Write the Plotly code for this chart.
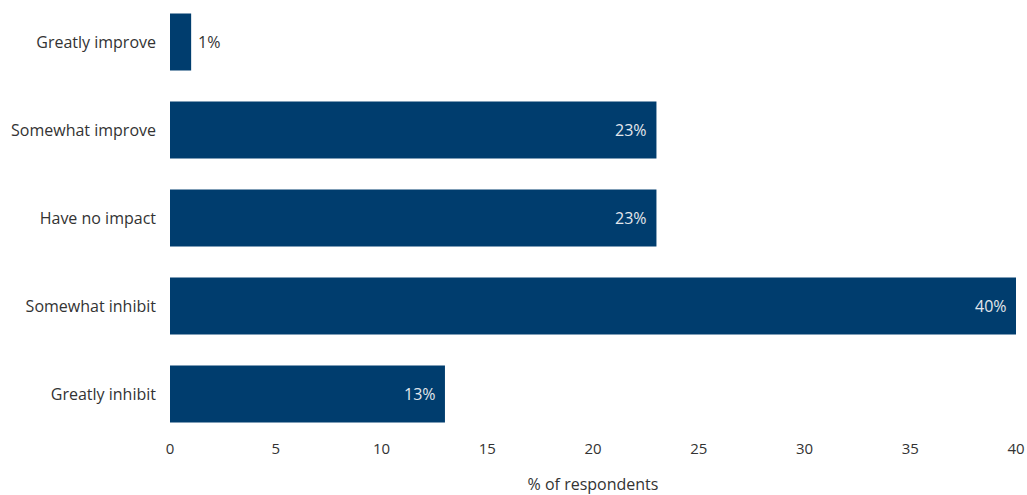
import plotly.graph_objects as go

categories = ["Greatly improve", "Somewhat improve", "Have no impact", "Somewhat inhibit", "Greatly inhibit"]
values = [1, 23, 23, 40, 13]
labels = ["1%", "23%", "23%", "40%", "13%"]
inside = [False, True, True, True, True]

fig = go.Figure(go.Bar(
    x=values, y=categories, orientation="h",
    marker=dict(color="#003d6e", line=dict(width=0)),
    hoverinfo="x+y",
))

for c, v, t, ins in zip(categories, values, labels, inside):
    fig.add_annotation(
        x=v, y=c, text=t, showarrow=False,
        xanchor="right" if ins else "left",
        xshift=-7 if ins else 5,
        font=dict(family="Open Sans", size=16,
                  color="#e3e7ec" if ins else "#333333"),
    )

fig.update_layout(
    width=1027, height=495,
    margin=dict(l=170, r=11, t=0, b=57),
    paper_bgcolor="white", plot_bgcolor="white",
    bargap=0.35,
    font=dict(family="Open Sans", size=16, color="#333333"),
    showlegend=False,
    xaxis=dict(range=[0, 40], tickvals=[0, 5, 10, 15, 20, 25, 30, 35, 40],
               showgrid=False, zeroline=False, showline=False, ticks="",
               tickfont=dict(size=15),
               title=dict(text="% of respondents", standoff=22, font=dict(size=16)),
               ticklabelstandoff=0),
    yaxis=dict(range=[4.5, -0.477], showgrid=False, zeroline=False, showline=False,
               ticks="", ticklabelstandoff=13, tickfont=dict(size=16)),
)

fig.write_html("out.html")
